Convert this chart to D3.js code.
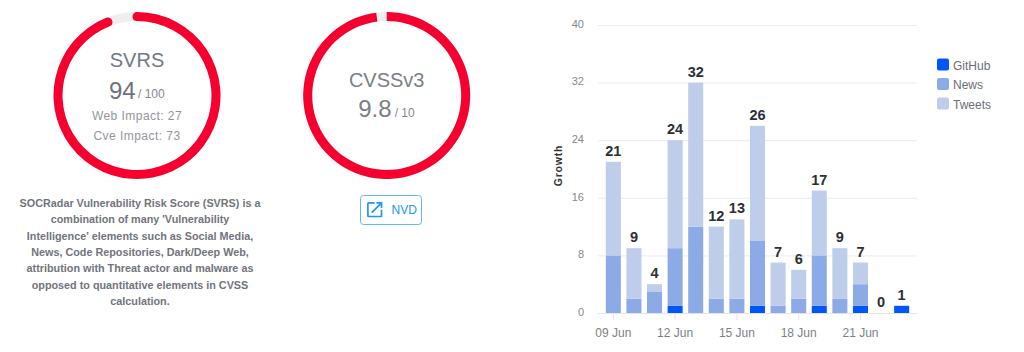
<!DOCTYPE html>
<html>
<head>
    <meta charset="utf-8" />
    <title>SVRS, CVSS and growth</title>
    <style>
        html, body { margin: 0; padding: 0; background: #fff; }
        svg { display: block; }
        text { font-family: "Liberation Sans", Arial, sans-serif; }
    </style>
    <script type="text/javascript" src="https://cdn.jsdelivr.net/npm/d3@7/dist/d3.min.js"></script>
</head>
<body>
    <div id="svg"></div>

    <script type="text/javascript">
        var days = ['09 Jun', '10 Jun', '11 Jun', '12 Jun', '13 Jun', '14 Jun', '15 Jun', '16 Jun',
                    '17 Jun', '18 Jun', '19 Jun', '20 Jun', '21 Jun', '22 Jun', '23 Jun'];
        var github = [0, 0, 0, 1, 0, 0, 0, 1, 0, 0, 1, 0, 1, 0, 1];
        var news = [8, 2, 3, 8, 12, 2, 2, 9, 1, 2, 7, 2, 3, 0, 0];
        var tweets = [13, 7, 1, 15, 20, 10, 11, 16, 6, 4, 9, 7, 3, 0, 0];
        var seriesNames = ['GitHub', 'News', 'Tweets'];
        var dayTicks = ['09 Jun', '12 Jun', '15 Jun', '18 Jun', '21 Jun'];
        var growthTicks = [0, 8, 16, 24, 32, 40];

        var svrsScore = 94, svrsMax = 100, webImpact = 27, cveImpact = 73;
        var cvssScore = 9.8, cvssMax = 10;
        var description = [
            'SOCRadar Vulnerability Risk Score (SVRS) is a',
            'combination of many \'Vulnerability',
            'Intelligence\' elements such as Social Media,',
            'News, Code Repositories, Dark/Deep Web,',
            'attribution with Threat actor and malware as',
            'opposed to quantitative elements in CVSS',
            'calculation.'
        ];

        var width = 1024,
            height = 352;

        var colors = d3.scaleOrdinal()
            .domain(seriesNames)
            .range(['#0055fb', '#8cabe6', '#bdcdea']);

        var svg = d3.select('#svg')
            .append('svg')
            .attr('width', width)
            .attr('height', height);

        // gauges
        function drawGauge(cx, cy, score, max, corner) {
            var angle = d3.scaleLinear().domain([0, max]).range([0, 2 * Math.PI]);
            var arc = d3.arc().innerRadius(74.5).outerRadius(83.5);
            var g = svg.append('g').attr('transform', 'translate(' + cx + ',' + cy + ')');
            // round caps stick out past the value, d3.arc keeps them inside it
            var cap = corner / 79;
            g.append('path')
                .attr('d', arc({ startAngle: 0, endAngle: 2 * Math.PI }))
                .attr('fill', '#eeeeee');
            g.append('path')
                .attr('d', arc.cornerRadius(corner)({ startAngle: -cap, endAngle: angle(score) + cap }))
                .attr('fill', '#f5002f');
            return g;
        }

        function label(g, x, y, str, size, color, anchor) {
            return g.append('text')
                .attr('x', x)
                .attr('y', y)
                .attr('font-size', size)
                .attr('fill', color)
                .attr('text-anchor', anchor || 'middle')
                .text(str);
        }

        var svrs = drawGauge(137, 95.5, svrsScore, svrsMax, 4.5);
        label(svrs, 0, -28.5, 'SVRS', 20, '#74788a');
        label(svrs, -28, 3, svrsScore, 24, '#6f7280', 'start');
        label(svrs, 1, 2, '/ ' + svrsMax, 12, '#85878f', 'start');
        label(svrs, 0, 24, 'Web Impact: ' + webImpact, 12, '#94959c').attr('letter-spacing', 0.45);
        label(svrs, 0, 44, 'Cve Impact: ' + cveImpact, 12, '#94959c').attr('letter-spacing', 0.45);

        var cvss = drawGauge(386.7, 95.5, cvssScore, cvssMax, 0);
        label(cvss, 0, -8.5, 'CVSSv3', 20, '#7c7f88');
        label(cvss, -28.5, 21, cvssScore, 24, '#7c7f88', 'start');
        label(cvss, 8, 21, '/ ' + cvssMax, 12, '#85878f', 'start');

        // NVD button
        var nvd = svg.append('g').attr('transform', 'translate(360.5,195.5)');
        nvd.append('rect')
            .attr('width', 61)
            .attr('height', 29)
            .attr('rx', 3)
            .attr('fill', '#fff')
            .attr('stroke', '#64b5f6');
        nvd.append('path')
            .attr('transform', 'translate(4,4) scale(0.85)')
            .attr('d', 'M19 19H5V5h7V3H5c-1.11 0-2 .9-2 2v14c0 1.1.89 2 2 2h14c1.1 0 2-.9 2-2v-7h-2v7zM14 3v2h3.59l-9.83 9.83 1.41 1.41L19 6.41V10h2V3h-7z')
            .attr('fill', '#2196f3');
        label(nvd, 31, 18, 'NVD', 12, '#2196f3', 'start');

        // description
        var descG = svg.append('g');
        description.forEach(function(line, i) {
            label(descG, 140, 207 + i * 16.3, line, 10.8, '#71747c').attr('font-weight', 'bold');
        });

        // stacked bars
        var rows = days.map(function(d, i) {
            return { day: d, GitHub: github[i], News: news[i], Tweets: tweets[i] };
        });
        var stacked = d3.stack().keys(seriesNames)(rows);

        var xScale = d3.scaleBand()
            .domain(days)
            .range([598, 917])
            .paddingInner(0.27)
            .paddingOuter(0.38);

        var yScale = d3.scaleLinear()
            .domain([0, 40])
            .range([313, 25]);

        var gY = svg.append('g')
            .attr('transform', 'translate(598,0)')
            .call(d3.axisLeft(yScale).tickValues(growthTicks).tickSize(-319).tickPadding(14));
        gY.select('.domain').remove();
        gY.selectAll('line').attr('stroke', '#ebebeb');
        gY.selectAll('text')
            .attr('font-family', null)
            .attr('font-size', 11)
            .attr('dy', '0.2em')
            .attr('fill', '#85878f');

        var gX = svg.append('g')
            .attr('transform', 'translate(0,313)')
            .call(d3.axisBottom(xScale).tickValues(dayTicks).tickSize(7).tickPadding(8).tickSizeOuter(0));
        gX.select('.domain').attr('stroke', '#e4e4e4');
        gX.selectAll('line').attr('stroke', '#e4e4e4');
        gX.selectAll('text')
            .attr('font-family', null)
            .attr('font-size', 12)
            .attr('fill', '#7c7f88');

        svg.selectAll('.layer')
            .data(stacked)
            .enter()
            .append('g')
            .attr('class', 'layer')
            .attr('fill', function(s) { return colors(s.key); })
            .selectAll('rect')
            .data(function(s) { return s; })
            .enter()
            .append('rect')
            .attr('x', function(d) { return xScale(d.data.day); })
            .attr('width', xScale.bandwidth())
            .attr('y', function(d) { return yScale(d[1]); })
            .attr('height', function(d) { return yScale(d[0]) - yScale(d[1]); });

        svg.selectAll('.total')
            .data(rows)
            .enter()
            .append('text')
            .attr('class', 'total')
            .attr('x', function(d) { return xScale(d.day) + xScale.bandwidth() / 2; })
            .attr('y', function(d) { return yScale(d.GitHub + d.News + d.Tweets) - 6; })
            .attr('text-anchor', 'middle')
            .attr('font-size', 14.5)
            .attr('font-weight', 'bold')
            .attr('fill', '#2b2f36')
            .text(function(d) { return d.GitHub + d.News + d.Tweets; });

        svg.append('text')
            .attr('transform', 'translate(562,165.5) rotate(-90)')
            .attr('text-anchor', 'middle')
            .attr('font-size', 10.5)
            .attr('font-weight', 'bold')
            .attr('letter-spacing', 0.8)
            .attr('fill', '#333')
            .text('Growth');

        // legend
        var legend = svg.selectAll('.legend')
            .data(seriesNames)
            .enter()
            .append('g')
            .attr('class', 'legend')
            .attr('transform', function(d, i) { return 'translate(937,' + (58.5 + i * 19.5) + ')'; });
        legend.append('rect')
            .attr('width', 12)
            .attr('height', 12)
            .attr('rx', 2)
            .attr('fill', function(d) { return colors(d); });
        legend.append('text')
            .attr('x', 16)
            .attr('y', 11)
            .attr('font-size', 12)
            .attr('fill', '#6b6e76')
            .text(function(d) { return d; });
    </script>
</body>
</html>
